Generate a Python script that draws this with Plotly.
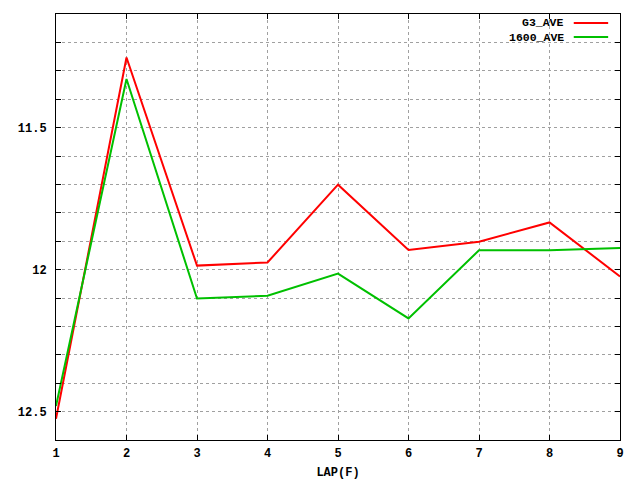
import plotly.graph_objects as go

laps = [1, 2, 3, 4, 5, 6, 7, 8, 9]
g3_ave = [12.525, 11.253, 11.986, 11.975, 11.701, 11.931, 11.902, 11.834, 12.024]
ave1600 = [12.48, 11.329, 12.102, 12.092, 12.014, 12.172, 11.932, 11.932, 11.924]
series_names = ["G3_AVE", "1600_AVE"]
series_colors = ["#ff0000", "#00c000"]

y_ticks = [round(11.1 + 0.1 * i, 1) for i in range(16)]
y_labels = {11.5: "11.5", 12.0: "12", 12.5: "12.5"}
y_text = [y_labels.get(v, "") for v in y_ticks]

font = dict(family="Liberation Mono", size=12, color="black", weight="bold")
leg_font = dict(family="Liberation Mono", size=11.5, color="black", weight="bold")

fig = go.Figure()
for name, vals, col in zip(series_names, [g3_ave, ave1600], series_colors):
    fig.add_trace(go.Scatter(x=laps, y=vals, mode="lines", name=name,
                             line=dict(color=col, width=2), showlegend=False))

axis_common = dict(showline=True, linecolor="black", linewidth=1, mirror="ticks",
                   ticks="inside", ticklen=5, tickcolor="black", tickwidth=1,
                   showgrid=True, gridcolor="#a0a0a0", griddash="dot", gridwidth=1,
                   zeroline=False, tickfont=font, automargin=False)

fig.update_xaxes(range=[1, 9], tickvals=laps, ticktext=[str(v) for v in laps],
                 ticklabelstandoff=2,
                 title=dict(text="LAP(F)", font=font, standoff=9), **axis_common)
fig.update_yaxes(range=[12.6, 11.1], tickvals=y_ticks, ticktext=y_text,
                 ticklabelstandoff=6, **axis_common)

# legend (gnuplot style: text right, sample line on the right)
leg_y = [0.979, 0.946]
for name, col, yy in zip(series_names, series_colors, leg_y):
    fig.add_annotation(x=0.903, y=yy, xref="paper", yref="paper", text=name,
                       showarrow=False, xanchor="right", yanchor="middle", font=leg_font,
                       borderpad=0)
    fig.add_shape(type="line", xref="paper", yref="paper", x0=0.918, x1=0.979,
                  y0=yy, y1=yy, line=dict(color=col, width=2))

fig.update_layout(width=640, height=480, margin=dict(l=56, r=20, t=14, b=40),
                  plot_bgcolor="white", paper_bgcolor="white", font=font)
fig.write_html("out.html", config={"displayModeBar": False},
               post_script="document.body.style.margin='0';")
